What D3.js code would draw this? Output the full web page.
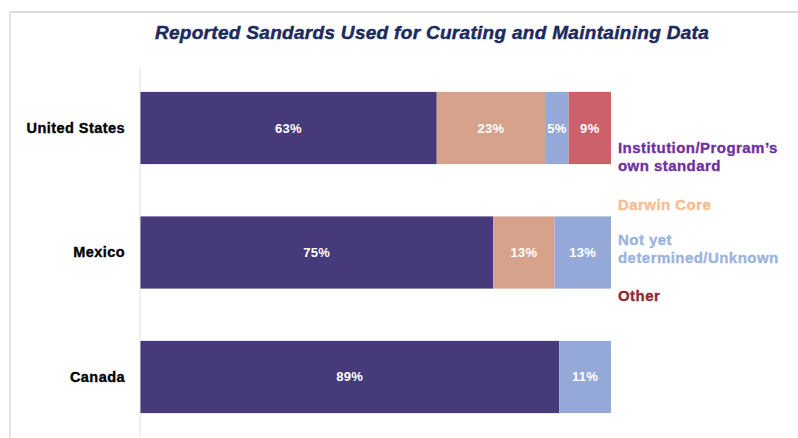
<!DOCTYPE html>
<html>
<head>
<meta charset="utf-8">
<script src="https://cdn.jsdelivr.net/npm/d3@7"></script>
<style>
  html, body { margin: 0; padding: 0; background: #fff; }
  svg { display: block; }
</style>
</head>
<body>
<svg id="chart" width="798" height="438"></svg>
<script>
// Countries and the share of each reported standard (percent)
const countries = ["United States", "Mexico", "Canada"];
const series = ["Institution/Program’s own standard", "Darwin Core", "Not yet determined/Unknown", "Other"];
const ownStandard = [63, 75, 89];
const darwinCore = [23, 13, 0];
const notYet = [5, 13, 11];
const other = [9, 0, 0];

const barColors = ["#463a7b", "#d6a28b", "#95a9d8", "#cd616b"];
const legendColors = ["#7030a0", "#f8bd8f", "#9bb4dd", "#8e2b2b"];

const svg = d3.select("#chart");
const W = 798, H = 438;
const FONT = "Liberation Sans, Arial, Helvetica, sans-serif";

// Frame lines
svg.append("line").attr("x1", 10).attr("x2", W).attr("y1", 12).attr("y2", 12)
  .attr("stroke", "#dcdcdc").attr("stroke-width", 2);
svg.append("line").attr("x1", 10).attr("x2", 10).attr("y1", 12).attr("y2", H)
  .attr("stroke", "#dcdcdc").attr("stroke-width", 1.5);

// Title
svg.append("text")
  .attr("x", 432).attr("y", 39)
  .attr("text-anchor", "middle")
  .attr("font-family", FONT)
  .attr("font-size", 19).attr("font-weight", "bold").attr("font-style", "italic")
  .attr("letter-spacing", 0.3)
  .attr("fill", "#1c2a5e")
  .attr("stroke", "#1c2a5e").attr("stroke-width", 0.45)
  .text("Reported Sandards Used for Curating and Maintaining Data");

const x = d3.scaleLinear().domain([0, 100]).range([140, 611]);
const y = d3.scaleBand().domain(countries).range([67, 438]).paddingInner(0.42).paddingOuter(0.2);

const rows = countries.map((c, i) => ({
  country: c,
  values: [ownStandard[i], darwinCore[i], notYet[i], other[i]]
}));

// Stack segments
const segs = [];
rows.forEach(r => {
  let acc = 0;
  r.values.forEach((v, k) => {
    if (v > 0) segs.push({ country: r.country, k, v, x0: acc, x1: acc + v });
    acc += v;
  });
});

svg.append("g").selectAll("rect").data(segs).join("rect")
  .attr("x", d => x(d.x0))
  .attr("y", d => y(d.country))
  .attr("width", d => x(Math.min(d.x1, 100)) - x(d.x0))
  .attr("height", y.bandwidth())
  .attr("fill", d => barColors[d.k]);

svg.append("g").selectAll("text").data(segs).join("text")
  .attr("x", d => (x(d.x0) + x(Math.min(d.x1, 100))) / 2)
  .attr("y", d => y(d.country) + y.bandwidth() / 2 + 4.5)
  .attr("text-anchor", "middle")
  .attr("font-family", FONT)
  .attr("font-size", 13).attr("font-weight", "bold")
  .attr("letter-spacing", 0.3)
  .attr("fill", "#fff")
  .text(d => d.v + "%");

// Category axis
const yAxis = svg.append("g").attr("transform", "translate(140,0)")
  .call(d3.axisLeft(y).tickSize(0).tickPadding(15));
yAxis.select(".domain").attr("stroke", "#e2e2e2").attr("d", "M0,67V437");
yAxis.selectAll("text")
  .attr("font-family", FONT)
  .attr("font-size", 14.5).attr("font-weight", "bold")
  .attr("letter-spacing", 0.45).attr("fill", "#000")
  .attr("stroke", "#000").attr("stroke-width", 0.35);

// Legend text
const legendLines = [
  { k: 0, lines: ["Institution/Program’s", "own standard"], y: 153 },
  { k: 1, lines: ["Darwin Core"], y: 210 },
  { k: 2, lines: ["Not yet", "determined/Unknown"], y: 245 },
  { k: 3, lines: ["Other"], y: 301 }
];
const lg = svg.append("g");
legendLines.forEach(item => {
  const t = lg.append("text")
    .attr("x", 618).attr("y", item.y)
    .attr("font-family", FONT)
    .attr("font-size", 15).attr("font-weight", "bold")
    .attr("letter-spacing", 0.45)
    .attr("fill", legendColors[item.k])
    .attr("stroke", legendColors[item.k]).attr("stroke-width", 0.35);
  item.lines.forEach((ln, j) => {
    t.append("tspan").attr("x", 618).attr("dy", j === 0 ? 0 : 17.5).text(ln);
  });
});
</script>
</body>
</html>
